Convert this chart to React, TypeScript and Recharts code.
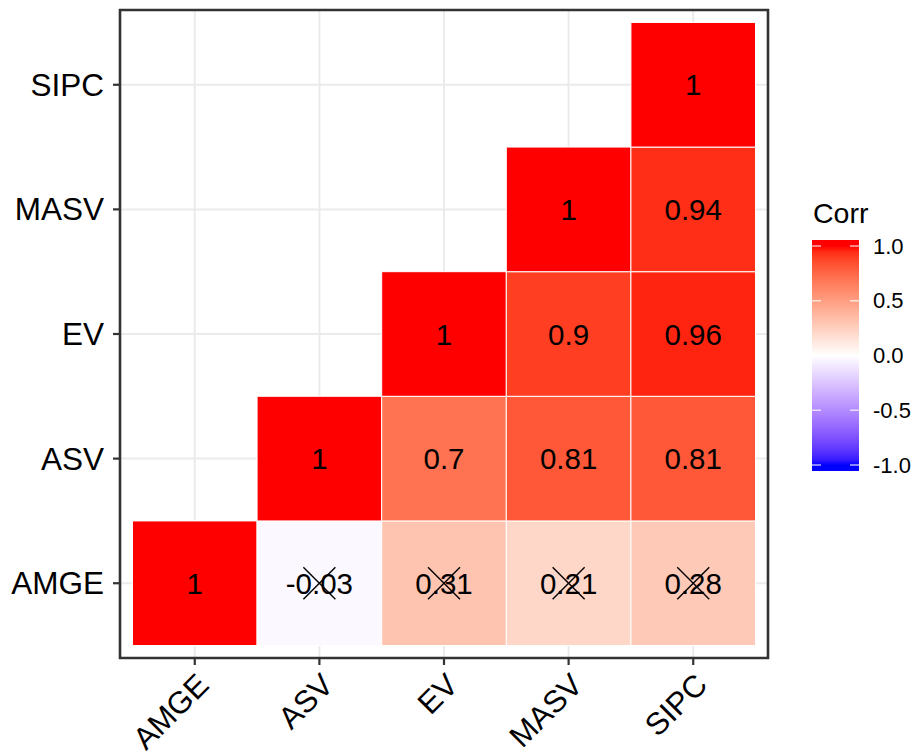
import React from 'react';
import { ScatterChart, Scatter, XAxis, YAxis, CartesianGrid, ReferenceArea } from 'recharts';

const vars = ['AMGE', 'ASV', 'EV', 'MASV', 'SIPC'];

// lower triangle of the correlation matrix, one array per row (null = hidden)
const corrAMGE = [1, -0.03, 0.31, 0.21, 0.28];
const corrASV = [null, 1, 0.7, 0.81, 0.81];
const corrEV = [null, null, 1, 0.9, 0.96];
const corrMASV = [null, null, null, 1, 0.94];
const corrSIPC = [null, null, null, null, 1];

// pairs marked with a cross (not significant)
const insignificant = ['AMGE-ASV', 'AMGE-EV', 'AMGE-MASV', 'AMGE-SIPC'];

const legendTicks = [1, 0.5, 0, -0.5, -1];

const FONT = '"Liberation Sans", Arial, Helvetica, sans-serif';

// colour ramp like scale_fill_gradient2 (interpolated in Lab)
const toLin = (c: number) => {
  c /= 255;
  return c <= 0.04045 ? c / 12.92 : Math.pow((c + 0.055) / 1.055, 2.4);
};
const rgb2lab = (rgb: number[]) => {
  const [R, G, B] = rgb.map(toLin);
  const X = (R * 0.4124564 + G * 0.3575761 + B * 0.1804375) / 0.95047;
  const Y = R * 0.2126729 + G * 0.7151522 + B * 0.072175;
  const Z = (R * 0.0193339 + G * 0.119192 + B * 0.9503041) / 1.08883;
  const f = (t: number) => (t > 216 / 24389 ? Math.cbrt(t) : ((24389 / 27) * t + 16) / 116);
  const fx = f(X), fy = f(Y), fz = f(Z);
  return [116 * fy - 16, 500 * (fx - fy), 200 * (fy - fz)];
};
const lab2hex = (lab: number[]) => {
  const [L, a, b] = lab;
  const fy = (L + 16) / 116;
  const fx = fy + a / 500;
  const fz = fy - b / 200;
  const k = 24389 / 27;
  const finv = (t: number) => (t ** 3 > 216 / 24389 ? t ** 3 : (116 * t - 16) / k);
  const X = finv(fx) * 0.95047;
  const Y = L > 8 ? fy ** 3 : L / k;
  const Z = finv(fz) * 1.08883;
  const r = 3.2404542 * X - 1.5371385 * Y - 0.4985314 * Z;
  const g = -0.969266 * X + 1.8760108 * Y + 0.041556 * Z;
  const bb = 0.0556434 * X - 0.2040259 * Y + 1.0572252 * Z;
  const enc = (c: number) => {
    c = Math.max(0, Math.min(1, c));
    const v = c <= 0.0031308 ? 12.92 * c : 1.055 * Math.pow(c, 1 / 2.4) - 0.055;
    return Math.round(v * 255).toString(16).padStart(2, '0');
  };
  return '#' + enc(r) + enc(g) + enc(bb);
};
const LOW = rgb2lab([0, 0, 255]);
const MID = rgb2lab([255, 255, 255]);
const HIGH = rgb2lab([255, 0, 0]);
const corrColor = (v: number) => {
  const t = Math.max(-1, Math.min(1, v));
  const end = t >= 0 ? HIGH : LOW;
  const s = Math.abs(t);
  return lab2hex(MID.map((m, i) => m + (end[i] - m) * s));
};

const rows = [corrAMGE, corrASV, corrEV, corrMASV, corrSIPC];
const cells = rows.flatMap((row, j) =>
  row
    .map((value, i) =>
      value === null
        ? null
        : {
            x: i + 1,
            y: j + 1,
            value,
            crossed: insignificant.includes(`${vars[j]}-${vars[i]}`),
          }
    )
    .filter((c) => c !== null)
) as { x: number; y: number; value: number; crossed: boolean }[];

const CellLabel = (props: any) => {
  const { cx, cy, payload } = props;
  return (
    <g>
      <text
        x={cx}
        y={cy}
        textAnchor="middle"
        dominantBaseline="central"
        fontSize={29.5}
        fontFamily={FONT}
        fill="#000"
      >
        {String(payload.value)}
      </text>
      {payload.crossed && (
        <g stroke="#000" strokeWidth={1.4}>
          <line x1={cx - 16} y1={cy - 16} x2={cx + 16} y2={cy + 16} />
          <line x1={cx - 16} y1={cy + 16} x2={cx + 16} y2={cy - 16} />
        </g>
      )}
    </g>
  );
};

const XTick = (props: any) => {
  const { x, y, payload } = props;
  return (
    <text
      x={x}
      y={y}
      transform={`rotate(-45, ${x}, ${y})`}
      textAnchor="end"
      dy="0.72em"
      fontSize={31}
      fontFamily={FONT}
      fill="#000"
    >
      {vars[payload.value - 1]}
    </text>
  );
};

const YTick = (props: any) => {
  const { x, y, payload } = props;
  return (
    <text
      x={x}
      y={y}
      textAnchor="end"
      dominantBaseline="central"
      fontSize={31.5}
      fontFamily={FONT}
      fill="#000"
    >
      {vars[payload.value - 1]}
    </text>
  );
};

const BAR_TOP = 240;
const BAR_BOTTOM = 471;
const legendY = (v: number) => 355.5 - v * 109.5;
const barStops = Array.from({ length: 41 }, (_, k) => k / 40);

const ColorBar = () => (
  <svg
    width={916}
    height={755}
    style={{ position: 'absolute', left: 0, top: 0, pointerEvents: 'none' }}
  >
    <defs>
      <linearGradient id="corrbar" x1="0" y1="0" x2="0" y2="1">
        {barStops.map((f) => {
          const y = BAR_TOP + f * (BAR_BOTTOM - BAR_TOP);
          const v = (355.5 - y) / 109.5;
          return <stop key={f} offset={f} stopColor={corrColor(v)} />;
        })}
      </linearGradient>
    </defs>
    <text x={813} y={223} fontSize={28.5} fontFamily={FONT} fill="#000">
      Corr
    </text>
    <rect x={812} y={BAR_TOP} width={47} height={BAR_BOTTOM - BAR_TOP} fill="url(#corrbar)" />
    {legendTicks.map((t) => (
      <g key={t}>
        <line x1={812} x2={821} y1={legendY(t)} y2={legendY(t)} stroke="#fff" strokeOpacity={0.7} strokeWidth={1.5} />
        <line x1={850} x2={859} y1={legendY(t)} y2={legendY(t)} stroke="#fff" strokeOpacity={0.7} strokeWidth={1.5} />
        <text
          x={873}
          y={legendY(t)}
          dominantBaseline="central"
          fontSize={22}
          fontFamily={FONT}
          fill="#000"
        >
          {t.toFixed(1)}
        </text>
      </g>
    ))}
  </svg>
);

export default function App() {
  return (
    <div style={{ position: 'absolute', left: 0, top: 0, width: 916, height: 755, background: '#fff' }}>
      <ScatterChart width={916} height={755} margin={{ top: 10, right: 148, bottom: 0, left: 0 }}>
        <CartesianGrid stroke="#EBEBEB" strokeWidth={2} />
        <XAxis
          type="number"
          dataKey="x"
          domain={[0.4, 5.6]}
          ticks={[1, 2, 3, 4, 5]}
          allowDataOverflow
          height={97}
          axisLine={false}
          tickLine={{ stroke: '#333', strokeWidth: 2.2 }}
          tickSize={7}
          tickMargin={6}
          tick={<XTick />}
          interval={0}
        />
        <YAxis
          type="number"
          dataKey="y"
          domain={[0.4, 5.6]}
          ticks={[1, 2, 3, 4, 5]}
          allowDataOverflow
          width={120}
          axisLine={false}
          tickLine={{ stroke: '#333', strokeWidth: 2.2 }}
          tickSize={7}
          tickMargin={9}
          tick={<YTick />}
          interval={0}
        />
        {cells.map((c) => (
          <ReferenceArea
            key={`${c.x}-${c.y}`}
            x1={c.x - 0.5}
            x2={c.x + 0.5}
            y1={c.y - 0.5}
            y2={c.y + 0.5}
            fill={corrColor(c.value)}
            fillOpacity={1}
            stroke="#fff"
            strokeWidth={1}
          />
        ))}
        <Scatter data={cells} isAnimationActive={false} shape={<CellLabel />} />
        <ReferenceArea
          x1={0.4}
          x2={5.6}
          y1={0.4}
          y2={5.6}
          fill="none"
          stroke="#333"
          strokeWidth={2.6}
        />
      </ScatterChart>
      <ColorBar />
    </div>
  );
}
